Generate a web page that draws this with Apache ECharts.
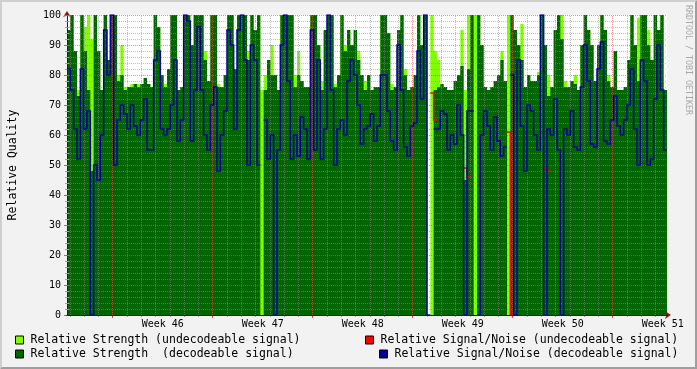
<!DOCTYPE html>
<html><head><meta charset="utf-8">
<script src="https://cdn.jsdelivr.net/npm/echarts@6.0.0/dist/echarts.min.js"></script>
<style>html,body{margin:0;padding:0;background:#F2F2F2;overflow:hidden}#chart{width:697px;height:369px}</style>
</head><body><div id="chart"></div>
<script>
// ---- data (180 samples across the 6-week span) ----
const strengthDecodeable = [
 95,100,88,73,100,88,75,48,100,88, 75,100,85,100,100,78,80,75,76,76, 77,76,77,79,77,76,100,96,80,76,
 82,100,100,75,76,100,100,90,100,100, 100,85,78,100,100,76,76,80,100,100, 82,100,100,100,85,100,95,100,0,75,
 85,80,80,75,100,100,100,100,76,80, 78,76,76,100,100,90,75,95,100,100, 76,80,100,88,95,90,95,85,80,75,
 80,75,76,76,100,100,94,75,76,95, 100,80,75,76,80,100,90,100,0,0, 75,76,77,76,75,75,78,80,83,45,
 82,100,0,100,90,76,75,76,78,80, 85,78,0,100,95,90,85,76,80,78, 78,80,100,90,73,76,95,100,92,76,
 76,78,77,75,90,100,95,90,78,90, 100,95,78,76,88,75,75,76,85,100, 90,78,100,100,90,85,100,95,100,75
];
const strengthUndecodeable = [
 95,100,88,75,100,96,100,92,100,88, 75,100,85,100,100,80,90,76,76,77, 77,77,77,79,77,76,100,96,80,77,
 82,100,100,75,76,100,100,90,100,100, 100,88,78,100,100,77,76,80,100,100, 82,100,100,100,88,100,95,100,75,80,
 85,90,80,75,100,100,100,100,80,88, 78,76,76,100,100,90,78,95,100,100, 77,80,100,90,95,90,95,88,80,78,
 80,75,76,76,100,100,94,77,76,95, 100,82,75,76,80,100,90,100,0,100, 88,85,77,76,75,75,78,80,95,75,
 100,100,100,100,90,76,75,76,78,80, 88,78,100,100,95,90,97,76,80,78, 78,81,100,90,80,76,95,100,100,78,
 76,78,80,75,90,100,95,90,78,90, 100,95,80,76,88,75,75,76,85,100, 90,99,100,100,95,85,100,95,100,75
];
const snrDecodeable = [
 82,75,62,52,82,62,68,0,50,45, 60,95,80,100,50,65,70,67,62,70, 63,60,65,72,55,55,85,88,62,60,
 62,70,85,58,65,100,98,58,75,96, 75,60,55,70,76,48,60,68,95,90, 62,95,100,85,50,90,85,50,null,65,
 52,60,0,55,90,100,78,52,60,53, 66,62,52,95,55,85,52,62,100,75, 50,62,65,60,78,85,80,70,57,62,
 63,67,58,63,80,80,68,58,55,90, 75,56,53,63,64,88,72,100,0,null, 62,62,68,67,55,60,57,70,60,0,
 68,68,null,0,60,68,63,55,66,58, 53,56,null,80,0,85,63,48,70,68, 60,55,100,0,62,60,72,55,0,62,
 60,68,56,55,76,90,78,57,56,82, 91,58,57,65,73,63,60,65,70,82, 62,50,85,78,50,52,72,90,75,55
];
// [sample index, value] – the few visible undecodeable S/N readings
const snrUndecodeablePoints = [[109,74],[110,65],[119,49],[120,46],[132,61],[133,0],[143,49],[144,48]];

const seriesNames = [
 'Relative Strength (undecodeable signal)',
 'Relative Strength  (decodeable signal)',
 'Relative Signal/Noise (undecodeable signal)',
 'Relative Signal/Noise (decodeable signal)'
];
const weekLabels = ['Week 46','Week 47','Week 48','Week 49','Week 50','Week 51'];
const weekLabelDays = [6.7,13.7,20.7,27.7,34.7,41.7];   // days from left edge (mid-week)
const majorDayLines = [3.2,10.2,17.2,24.2,31.2,38.2];    // week starts
const spanDays = 42;
const firstDayLine = 0.2;

// ---- build ----
const FONT = "'DejaVu Sans Mono', monospace";
const C_LIGHT = '#80FF00', C_DARK = '#006600', C_BLUE = '#000099', C_RED = '#FF0000';
const MGRID = 'rgba(222,81,81,0.65)', GRID = 'rgba(140,140,140,0.55)';
const N = strengthDecodeable.length;
const categories = []; for (let i = 0; i <= N; i++) categories.push(i);
const ext = a => a.concat([a[a.length - 1]]);
const snrUndecodeable = new Array(N).fill(null);
snrUndecodeablePoints.forEach(p => { snrUndecodeable[p[0]] = p[1]; });
const dayLines = []; for (let d = firstDayLine; d < spanDays; d += 1) dayLines.push(+d.toFixed(2));
const minorDays = dayLines.filter(d => !majorDayLines.includes(d));

const legendCommon = {
  orient: 'horizontal', padding: 0, itemWidth: 8, itemHeight: 8, itemGap: 0, icon: 'rect',
  selectedMode: false, itemStyle: { borderColor: '#000', borderWidth: 1 },
  textStyle: { fontFamily: FONT, fontSize: 11.5, color: '#000', padding: [0, 0, 0, 2] }
};

const chart = echarts.init(document.getElementById('chart'), null, { renderer: 'canvas' });
chart.setOption({
  animation: false,
  backgroundColor: '#F2F2F2',
  grid: { left: 67, top: 15, width: 600, height: 300, show: true, backgroundColor: '#FFFFFF', borderWidth: 0,
          containLabel: false, outerBoundsMode: 'none' },
  legend: [
    Object.assign({ data: [seriesNames[0]], left: 15, top: 334 }, legendCommon),
    Object.assign({ data: [seriesNames[1]], left: 15, top: 348 }, legendCommon),
    Object.assign({ data: [seriesNames[2]], left: 365, top: 334 }, legendCommon),
    Object.assign({ data: [seriesNames[3]], left: 379, top: 348 }, legendCommon)
  ],
  xAxis: [
    { type: 'category', data: categories, boundaryGap: false, z: 6, position: 'bottom',
      axisLine: { show: true, lineStyle: { color: '#1F1F1F', width: 1 } },
      axisTick: { show: false }, axisLabel: { show: false }, splitLine: { show: false } },
    { type: 'value', min: 0, max: spanDays, z: 5, position: 'bottom',
      axisLine: { show: false },
      axisTick: { show: true, customValues: minorDays, length: 2, lineStyle: { color: '#A0A0A0' } },
      axisLabel: { show: true, customValues: weekLabelDays, margin: 4,
        formatter: v => weekLabels[weekLabelDays.indexOf(v)] || '',
        fontFamily: FONT, fontSize: 10, color: '#000' },
      splitLine: { show: false } },
    { type: 'value', min: 0, max: spanDays, z: 4, position: 'bottom',
      axisLine: { show: true, lineStyle: { color: '#7F1F1F' }, symbol: ['none', 'arrow'], symbolSize: [6, 6], symbolOffset: [0, 4] },
      axisTick: { show: true, customValues: majorDayLines, length: 3, lineStyle: { color: '#DE5151' } },
      axisLabel: { show: false }, splitLine: { show: false } }
  ],
  yAxis: [
    { type: 'value', min: 0, max: 100, interval: 10, z: 3, position: 'left',
      name: 'Relative Quality', nameLocation: 'middle', nameGap: 48, nameRotate: 90,
      nameTextStyle: { fontFamily: FONT, fontSize: 11.5, color: '#000' },
      axisLine: { show: true, lineStyle: { color: '#1F1F1F' } },
      axisTick: { show: true, length: 3, lineStyle: { color: '#DE5151' } },
      minorTick: { show: true, splitNumber: 5, length: 2, lineStyle: { color: '#A0A0A0' } },
      axisLabel: { margin: 6, fontFamily: FONT, fontSize: 10, color: '#000' },
      splitLine: { show: true, lineStyle: { color: MGRID, type: [1, 1], width: 1 } },
      minorSplitLine: { show: true, lineStyle: { color: GRID, type: [1, 1], width: 1 } } },
    { type: 'value', min: 0, max: 100, interval: 10, position: 'right', z: 3,
      axisLine: { show: false },
      axisTick: { show: true, length: 2, lineStyle: { color: '#DE5151' } },
      minorTick: { show: true, splitNumber: 5, length: 2, lineStyle: { color: '#A0A0A0' } },
      axisLabel: { show: false }, splitLine: { show: false } },
    { type: 'value', min: 0, max: 100, position: 'left', z: 2,
      axisLine: { show: true, lineStyle: { color: '#7F1F1F' }, symbol: ['none', 'arrow'], symbolSize: [6, 6], symbolOffset: [0, 4] },
      axisTick: { show: false }, axisLabel: { show: false }, splitLine: { show: false } }
  ],
  series: [
    { name: seriesNames[0], type: 'line', xAxisIndex: 0, yAxisIndex: 0, data: ext(strengthUndecodeable),
      step: 'end', symbol: 'none', silent: true, z: 2,
      lineStyle: { width: 0, color: C_LIGHT }, itemStyle: { color: C_LIGHT },
      areaStyle: { color: C_LIGHT, opacity: 1 } },
    { name: seriesNames[1], type: 'line', xAxisIndex: 0, yAxisIndex: 0, data: ext(strengthDecodeable),
      step: 'end', symbol: 'none', silent: true, z: 2,
      lineStyle: { width: 0, color: C_DARK }, itemStyle: { color: C_DARK },
      areaStyle: { color: C_DARK, opacity: 1 } },
    { type: 'line', xAxisIndex: 1, yAxisIndex: 0, data: [], z: 3, silent: true,
      markLine: { silent: true, symbol: ['none', 'none'], label: { show: false }, animation: false,
        data: dayLines.map(d => ({ xAxis: d,
          lineStyle: { color: majorDayLines.includes(d) ? MGRID : GRID, type: [1, 1], width: 1 } })) } },
    { name: seriesNames[2], type: 'line', xAxisIndex: 0, yAxisIndex: 0, data: ext(snrUndecodeable),
      step: 'end', symbol: 'none', silent: true, z: 4,
      lineStyle: { width: 1.5, color: C_RED, join: 'miter' }, itemStyle: { color: C_RED } },
    { name: seriesNames[3], type: 'line', xAxisIndex: 0, yAxisIndex: 0, data: ext(snrDecodeable),
      step: 'end', symbol: 'none', silent: true, z: 5,
      lineStyle: { width: 1.5, color: C_BLUE, join: 'miter' }, itemStyle: { color: C_BLUE } }
  ],
  graphic: [
    { type: 'polygon', silent: true, z: 100, shape: { points: [[0,369],[2,367],[2,2],[695,2],[697,0],[0,0]] }, style: { fill: '#CFCFCF' } },
    { type: 'polygon', silent: true, z: 100, shape: { points: [[2,367],[695,367],[695,2],[697,0],[697,369],[0,369]] }, style: { fill: '#9E9E9E' } },
    { type: 'text', silent: true, x: 688, y: 5, rotation: -Math.PI / 2,
      style: { text: 'RRDTOOL / TOBI OETIKER', fill: '#A8A8A8', font: "8.3px 'DejaVu Sans Mono', monospace", verticalAlign: 'middle', align: 'left' } }
  ]
});
</script></body></html>
